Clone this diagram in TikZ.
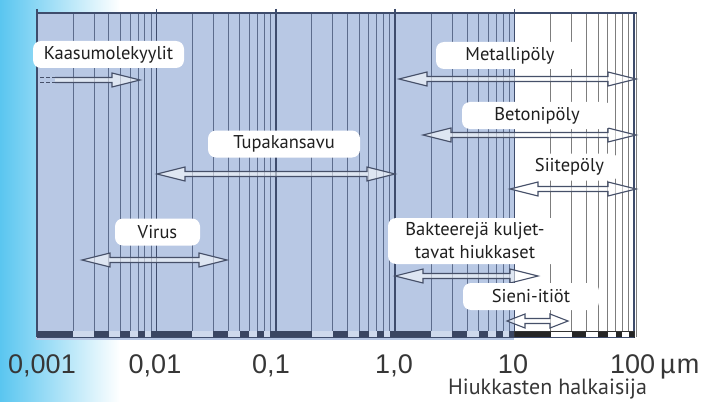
\documentclass[tikz,border=0pt]{standalone}
\usepackage{fontspec}
\setmainfont{PT Sans}
\newfontfamily\axisfont{Liberation Sans}
\usetikzlibrary{calc}
\definecolor{gradblue}{RGB}{90,198,240}
\definecolor{chartblue}{RGB}{184,200,228}
\definecolor{bline}{RGB}{92,108,140}
\definecolor{bdec}{RGB}{62,76,108}
\definecolor{barlight}{RGB}{206,217,236}
\definecolor{bardark}{RGB}{58,70,98}
\definecolor{wline}{RGB}{125,125,125}
\definecolor{arrowstroke}{RGB}{70,80,105}
\definecolor{axisgray}{RGB}{55,55,55}
\def\loglist{0.30103,0.47712,0.60206,0.69897,0.77815,0.84510,0.90309,0.95424}
\newcommand{\rangearrow}[3][28]{%
  \draw[rarrow] (#2) -- ($(#2)+(#1,-7)$) -- ($(#2)+(#1,-2.5)$) -- ($(#3)+(-#1,-2.5)$)
   -- ($(#3)+(-#1,-7)$) -- (#3) -- ($(#3)+(-#1,7)$) -- ($(#3)+(-#1,2.5)$)
   -- ($(#2)+(#1,2.5)$) -- ($(#2)+(#1,7)$) -- cycle;}
\begin{document}
\begin{tikzpicture}[x=1pt,y=-1pt,
  bluelog/.style={draw=bline,line width=0.8pt},
  bluedec/.style={draw=bdec,line width=1.6pt},
  whitelog/.style={draw=wline,line width=0.6pt},
  frame/.style={draw=bdec,line width=1.1pt},
  rarrow/.style={draw=arrowstroke,line width=1.1pt,fill=white,fill opacity=0.55,line join=miter},
  lbl/.style={fill=white,rounded corners=8pt,inner sep=0pt,minimum height=27pt,
    text=black!88,font=\fontsize{18.5}{23}\selectfont,align=center},
  axislbl/.style={inner sep=0pt,text=axisgray,font=\axisfont\fontsize{27}{30}\selectfont}]
\useasboundingbox (0,0) rectangle (711,401);
\fill[white] (0,0) rectangle (711,401);
\shade[left color=gradblue,right color=white] (0,0) rectangle (120,401);
% blue region
\fill[chartblue] (36,12) rectangle (514,340);
% log lines
\foreach \d in {0,...,3} {
  \foreach \l in \loglist {
    \draw[bluelog] ({37+119.4*(\d+\l)},13) -- ++(0,324);
  }
}
\foreach \l in \loglist {
  \draw[whitelog] ({37+119.4*(4+\l)},13) -- ++(0,324);
}
\foreach \d in {0,...,4} {
  \draw[bluedec] ({37+119.4*\d},9) -- ({37+119.4*\d},337);
}
\draw[frame] (634,13) -- (634,337);
\draw[wline,line width=0.6pt] (636.5,13) -- (636.5,337);
\draw[frame] (37,13) -- (636.5,13);
% bottom scale bar
\foreach \d in {0,...,3} {
  \fill[barlight] ({37+119.4*\d},331) rectangle ({37+119.4*(\d+1)},337);
  \foreach \a/\b in {0/0.30103,0.47712/0.60206,0.69897/0.77815,0.84510/0.90309,0.95424/1} {
    \fill[bardark] ({37+119.4*(\d+\a)},331) rectangle ({37+119.4*(\d+\b)},337);
  }
}
\fill[white] ({37+119.4*4},331) rectangle (634,337);
\foreach \a/\b in {0/0.30103,0.47712/0.60206,0.69897/0.77815,0.84510/0.90309,0.95424/1} {
  \fill[black!85] ({37+119.4*(4+\a)},331) rectangle ({37+119.4*(4+\b)},337);
}
\draw[black!80,line width=0.6pt] ({37+119.4*4},331) rectangle (634,337);
\draw[bdec,line width=0.8pt] (37,337) -- (634,337);
% range arrows
\coordinate (kaS) at (55,80);
\coordinate (kaR) at (140,80);
\draw[rarrow] (kaS) ++(0,-2.5) -- ($(kaR)+(-28,-2.5)$) -- ($(kaR)+(-28,-7)$) -- (kaR)
  -- ($(kaR)+(-28,7)$) -- ($(kaR)+(-28,2.5)$) -- ($(kaS)+(0,2.5)$);
\draw[arrowstroke,line width=1.1pt,dash pattern=on 4pt off 2pt] ($(kaS)+(-15,-2.5)$) -- ($(kaS)+(0,-2.5)$);
\draw[arrowstroke,line width=1.1pt,dash pattern=on 4pt off 2pt] ($(kaS)+(-15,2.5)$) -- ($(kaS)+(0,2.5)$);
\coordinate (tupL) at (157,174); \coordinate (tupR) at (395,174);
\rangearrow{tupL}{tupR}
\coordinate (metL) at (399,79); \coordinate (metR) at (636,79);
\rangearrow{metL}{metR}
\coordinate (betL) at (423,135); \coordinate (betR) at (636,135);
\rangearrow{betL}{betR}
\coordinate (siiL) at (510,189); \coordinate (siiR) at (636,189);
\rangearrow{siiL}{siiR}
\coordinate (virL) at (82,260); \coordinate (virR) at (227,260);
\rangearrow{virL}{virR}
\coordinate (bakL) at (395,276); \coordinate (bakR) at (538,276);
\rangearrow{bakL}{bakR}
\coordinate (sieL) at (507,321); \coordinate (sieR) at (568,321);
\rangearrow[18]{sieL}{sieR}
% labels
\node[lbl,minimum width=151pt] (kaasu) at (108.5,54.5) {Kaasumolekyylit};
\node[lbl,minimum width=152pt] (tupa) at (284,144) {Tupakansavu};
\node[lbl,minimum width=148pt] (metalli) at (510,55.5) {Metallipöly};
\node[lbl,minimum width=150pt] (betoni) at (537,115.5) {Betonipöly};
\node[lbl,minimum width=98pt] (siite) at (569.5,167) {Siitepöly};
\node[lbl,minimum width=85pt] (virus) at (157.5,232) {Virus};
\node[lbl,minimum width=174pt,minimum height=46pt] (bakt) at (475,241) {Bakteerejä kuljet-\\tavat hiukkaset};
\node[lbl,minimum width=136pt] (sieni) at (531,296.5) {Sieni-itiöt};
% axis
\node[axislbl,anchor=base] (t0) at (42,373) {0,001};
\node[axislbl,anchor=base] (t1) at (155,373) {0,01};
\node[axislbl,anchor=base] (t2) at (271,373) {0,1};
\node[axislbl,anchor=base] (t3) at (394,373) {1,0};
\node[axislbl,anchor=base] (t4) at (513,373) {10};
\node[axislbl,anchor=base west] (t5) at (610,373) {100\hspace{5pt}µ\hspace{1pt}m};
\node[inner sep=0pt,anchor=base west,text=axisgray,font=\fontsize{22}{24}\selectfont] (xlab) at (448,394) {Hiukkasten halkaisija};
\end{tikzpicture}
\end{document}
